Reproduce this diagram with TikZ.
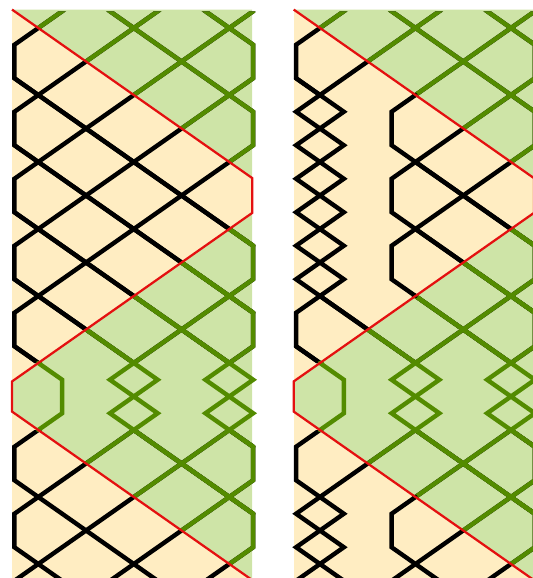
\documentclass[tikz,border=0pt]{standalone}
\usepackage{tikz}
\definecolor{SandFill}{HTML}{FFEDC2}
\definecolor{LeafFill}{HTML}{CEE4A7}
\definecolor{LeafLine}{HTML}{538B00}
\definecolor{FrontRed}{HTML}{E41010}

\tikzset{
  ray/.style={line width=0.088cm, line cap=round, line join=miter},
  front/.style={line width=0.045cm, color=FrontRed, line join=miter},
}

% bouncing rays of one panel, one every 2 rows (the red one is left out)
\newcommand{\panelrays}{%
  \foreach \s in {-10,-8,-6,-4,-2,2,4,6,8,10}
    \draw[ray] (-0.5,{\s-0.5}) -- ++(5,5) -- ++(0,1) -- ++(-5,5) -- ++(0,1) -- ++(5,5);%
}

% box run the other way round, so it cuts a hole in the clip
\newcommand{\hole}[4]{(#1,#2) -- (#1,#4) -- (#3,#4) -- (#3,#2) -- cycle}

% panel: fills, rays (black, green on the green side), #1 = holes
\newcommand{\panelbase}[1]{%
  \fill[SandFill] (-0.55,-0.55) rectangle (4.48,16.6);
  \fill[LeafFill] (-0.55,-0.55) -- (4.48,4.48) -- (4.48,-0.55) -- cycle;
  \fill[LeafFill] (4.48,5.52) -- (-0.55,10.55) -- (-0.55,11.45) -- (4.48,16.48) -- cycle;
  \begin{scope}
    \clip (-0.7,-0.5) -- (4.8,-0.5) -- (4.8,17.5) -- (-0.7,17.5) -- cycle #1;
    \begin{scope}[black]
      \panelrays
    \end{scope}
    \begin{scope}[LeafLine]
      \clip (-1,-1) -- (5,5) -- (5,-1) -- cycle
            (6,4) -- (-0.55,10.55) -- (-0.55,11.45) -- (6,18) -- cycle;
      \panelrays
    \end{scope}
  \end{scope}
}

% green knots between rows 10 and 12
\newcommand{\greenknots}{%
  \draw[ray, LeafLine] (0,10) -- (0.5,10.5) -- (0.5,11.5) -- (0,12);
  \foreach \c in {2,4}{
    \draw[ray, LeafLine] (\c,10) -- ++(-0.5,0.5) -- ++(0.5,0.5) -- ++(-0.5,0.5) -- ++(0.5,0.5);
    \draw[ray, LeafLine] (\c,10) -- ++(0.5,0.5) -- ++(-0.5,0.5) -- ++(0.5,0.5) -- ++(-0.5,0.5);
  }%
}

% red front
\newcommand{\redfront}{%
  \draw[front] (-0.55,-0.55) -- (4.48,4.48) -- (4.48,5.52) -- (-0.55,10.55) -- (-0.55,11.45) -- (4.7,16.7);%
}

\begin{document}
\begin{tikzpicture}[x=0.955cm, y=-0.67cm]
  \useasboundingbox (-0.802,-0.836) rectangle (10.36,16.418);
  \clip (-0.802,-0.836) rectangle (10.36,16.418);

  % left panel
  \panelbase{\hole{-0.45}{10}{4.7}{12}}
  \greenknots
  \redfront

  % right panel
  \begin{scope}[shift={(5.899,0)}]
    \panelbase{\hole{-0.45}{10}{4.7}{12} \hole{-0.6}{2}{2}{8} \hole{-0.6}{14}{2}{17.4}}
    \greenknots
    % narrow zigzags by the left wall
    \foreach \side in {-0.5,0.5}{
      \draw[ray] (0,2) \foreach \j in {2,...,7}{ -- (\side,{\j+0.5}) -- (0,{\j+1}) };
      \draw[ray] (0,14) \foreach \j in {14,15,16}{ -- (\side,{\j+0.5}) -- (0,{\j+1}) };
    }
    % inner wall at 1.5
    \draw[ray] (2,2) \foreach \j in {2,4,6}{ -- (1.5,{\j+0.5}) -- (1.5,{\j+1.5}) -- (2,{\j+2}) };
    \draw[ray] (2,14) -- (1.5,14.5) -- (1.5,15.5) -- (2,16) -- (1.5,16.5) -- (1.5,17.5);
    \redfront
  \end{scope}
\end{tikzpicture}
\end{document}
